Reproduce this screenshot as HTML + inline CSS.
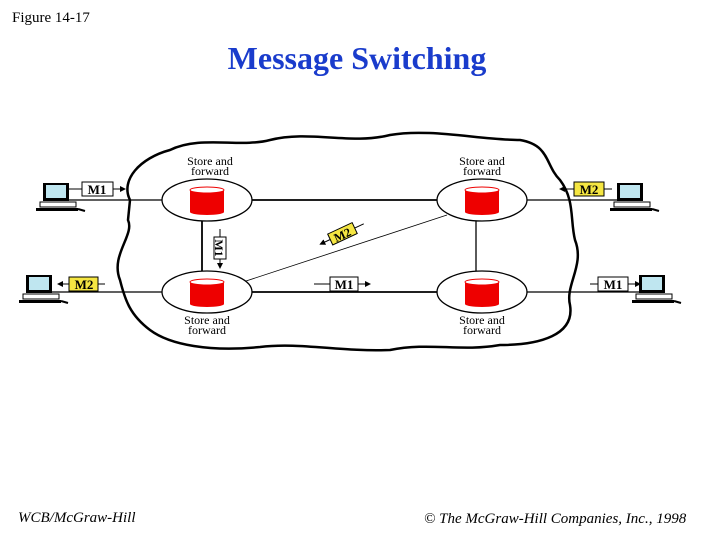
<!DOCTYPE html>
<html><head><meta charset="utf-8"><style>
body{margin:0;background:#fff;width:720px;height:540px;overflow:hidden;font-family:"Liberation Serif",serif}
</style></head><body>
<svg width="720" height="540" viewBox="0 0 720 540" xmlns="http://www.w3.org/2000/svg" font-family="Liberation Serif, serif">
<defs>
<marker id="a" markerWidth="6" markerHeight="6" refX="5" refY="3" orient="auto"><path d="M0,0 L6,3 L0,6z" fill="#000"/></marker>
<g id="pc">
<rect x="3" y="-2" width="26" height="18" fill="#000"/>
<rect x="6" y="0" width="20" height="13" fill="#bfe6f0"/>
<rect x="0" y="17" width="36" height="5" fill="#fff" stroke="#000" stroke-width="1"/>
<rect x="-4" y="23" width="42" height="3" fill="#000"/>
<path d="M38,24 l7,2" stroke="#000" stroke-width="2"/>
</g>
<g id="db">
<ellipse cx="0" cy="0" rx="45" ry="21" fill="#fff" stroke="#000" stroke-width="1.3"/>
<rect x="-17" y="-10" width="34" height="22" fill="#e00"/>
<ellipse cx="0" cy="12" rx="17" ry="3" fill="#e00"/>
<ellipse cx="0" cy="-10" rx="17" ry="3" fill="#fff" stroke="#e00" stroke-width="1"/>
</g>
</defs>
<text x="12" y="22" font-size="15">Figure 14-17</text>
<text x="357" y="69" font-size="32" font-weight="bold" fill="#1a3ccc" text-anchor="middle">Message Switching</text>

<path d="M130,200 C120,180 140,158 170,150 C200,135 240,148 270,140 C310,130 350,145 390,135 C430,128 480,140 520,140 C550,145 545,165 560,180 C575,200 570,220 575,240 C585,265 565,285 570,305 C575,335 540,345 500,345 C460,352 430,342 390,350 C340,352 300,342 260,347 C210,352 170,345 150,330 C130,315 125,300 120,280 C110,255 135,235 128,220 Z" fill="#fff" stroke="#000" stroke-width="2.5"/>

<g stroke="#000" stroke-width="1.3" fill="none">
<line x1="60" y1="200" x2="162" y2="200"/>
<line x1="252" y1="200" x2="437" y2="200" stroke-width="1.8"/>
<line x1="527" y1="200" x2="625" y2="200"/>
<line x1="30" y1="292" x2="162" y2="292"/>
<line x1="252" y1="292" x2="437" y2="292" stroke-width="1.8"/>
<line x1="527" y1="292" x2="660" y2="292"/>
<line x1="202" y1="220" x2="202" y2="272" stroke-width="1.8"/>
<line x1="476" y1="220" x2="476" y2="272"/>
<line x1="246" y1="281" x2="447" y2="215" stroke-width="0.8"/>
</g>
<use href="#db" x="207" y="200"/>
<use href="#db" x="207" y="292"/>
<use href="#db" x="482" y="200"/>
<use href="#db" x="482" y="292"/>

<g font-size="12" text-anchor="middle">
<text x="210" y="165">Store and</text><text x="210" y="175">forward</text>
<text x="482" y="165">Store and</text><text x="482" y="175">forward</text>
<text x="207" y="324">Store and</text><text x="207" y="334">forward</text>
<text x="482" y="324">Store and</text><text x="482" y="334">forward</text>
</g>

<use href="#pc" x="40" y="185"/>
<use href="#pc" x="23" y="277"/>
<use href="#pc" x="614" y="185"/>
<use href="#pc" x="636" y="277"/>

<g stroke="#000" stroke-width="1" font-size="13" font-weight="bold" text-anchor="middle">
<line x1="68" y1="189" x2="82" y2="189"/>
<rect x="82" y="182" width="31" height="14" fill="#fff"/><text x="97" y="194" stroke="none">M1</text>
<line x1="113" y1="189" x2="125" y2="189" marker-end="url(#a)"/>

<line x1="105" y1="284" x2="97" y2="284"/>
<rect x="69" y="277" width="29" height="14" fill="#f5e642"/><text x="84" y="289" stroke="none">M2</text>
<line x1="69" y1="284" x2="58" y2="284" marker-end="url(#a)"/>

<line x1="612" y1="189" x2="604" y2="189"/>
<rect x="574" y="182" width="30" height="14" fill="#f5e642"/><text x="589" y="194" stroke="none">M2</text>
<line x1="574" y1="189" x2="560" y2="189" marker-end="url(#a)"/>

<line x1="590" y1="284" x2="598" y2="284"/>
<rect x="598" y="277" width="30" height="14" fill="#fff"/><text x="613" y="289" stroke="none">M1</text>
<line x1="628" y1="284" x2="640" y2="284" marker-end="url(#a)"/>

<line x1="314" y1="284" x2="330" y2="284"/>
<rect x="330" y="277" width="28" height="14" fill="#fff"/><text x="344" y="289" stroke="none">M1</text>
<line x1="358" y1="284" x2="370" y2="284" marker-end="url(#a)"/>

<line x1="220" y1="229" x2="220" y2="238"/>
<g transform="translate(220,248) rotate(90)"><rect x="-11" y="-6" width="22" height="12" fill="#fff"/><text x="0" y="5" stroke="none" font-size="12">M1</text></g>
<line x1="220" y1="259" x2="220" y2="268" marker-end="url(#a)"/>

<g transform="translate(342,234) rotate(-25)"><line x1="14" y1="0" x2="24" y2="0"/><rect x="-13" y="-6" width="27" height="12" fill="#f5e642"/><text x="0" y="5" stroke="none" font-size="12">M2</text><line x1="-13" y1="0" x2="-24" y2="0" marker-end="url(#a)"/></g>
</g>

<text x="18" y="522" font-size="15" font-style="italic">WCB/McGraw-Hill</text>
<text x="424" y="523" font-size="15" font-style="italic">© The McGraw-Hill Companies, Inc., 1998</text>
</svg>
</body></html>
